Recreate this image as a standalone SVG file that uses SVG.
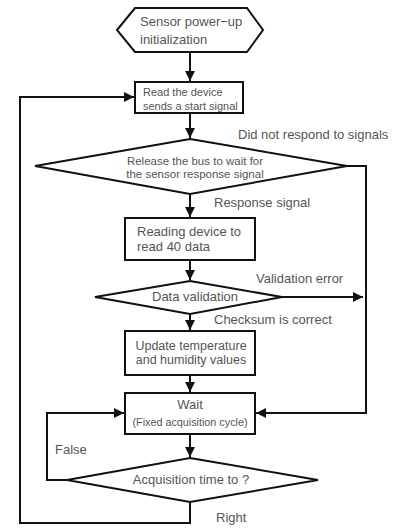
<svg xmlns="http://www.w3.org/2000/svg" width="411" height="530" viewBox="0 0 411 530">
<style>
.s{fill:#fff;stroke:#111;stroke-width:2}
.c{fill:none;stroke:#111;stroke-width:2}
text{font-family:"Liberation Sans",Arial,sans-serif;fill:#555;font-size:13px}
.sm{font-size:11px}
.md{font-size:11.5px}
.u{font-size:12.5px}
.m{text-anchor:middle}
</style>
<defs>
<marker id="a" viewBox="0 0 10 10" refX="10" refY="5" markerWidth="11" markerHeight="10" markerUnits="userSpaceOnUse" orient="auto"><path d="M0,0L10,5L0,10z" fill="#111"/></marker>
</defs>
<rect width="411" height="530" fill="#fff"/>
<g id="connectors">
<path class="c" d="M190,52V81" marker-end="url(#a)"/>
<path class="c" d="M190,113V138" marker-end="url(#a)"/>
<path class="c" d="M190,194V217" marker-end="url(#a)"/>
<path class="c" d="M190,260V280" marker-end="url(#a)"/>
<path class="c" d="M190,314V330" marker-end="url(#a)"/>
<path class="c" d="M190,375V392" marker-end="url(#a)"/>
<path class="c" d="M190,434V457" marker-end="url(#a)"/>
<path class="c" d="M347,166H366V413H256" marker-end="url(#a)"/>
<path class="c" d="M282,297H363" marker-end="url(#a)"/>
<path class="c" d="M67,480H47V413H124" marker-end="url(#a)"/>
<path class="c" d="M190,502V523H20V97H134" marker-end="url(#a)"/>
</g>
<g id="start">
<polygon class="s" points="117,30 135,8 247,8 263,30 247,52 135,52"/>
<text x="140" y="26">Sensor power−up</text>
<text x="140" y="44">initialization</text>
</g>
<g id="send">
<rect class="s" x="135" y="82" width="108" height="31"/>
<text class="sm" x="143" y="96">Read the device</text>
<text class="sm" x="143" y="110">sends a start signal</text>
</g>
<g id="wait-response">
<polygon class="s" points="190,139 347,166 190,194 35,166"/>
<text class="md m" x="195" y="165">Release the bus to wait for</text>
<text class="md m" x="195" y="178">the sensor response signal</text>
</g>
<g id="read">
<rect class="s" x="125" y="218" width="130" height="42"/>
<text x="137" y="236">Reading device to</text>
<text x="137" y="251">read 40 data</text>
</g>
<g id="validate">
<polygon class="s" points="190,281 282,297 190,314 95,297"/>
<text class="m" x="195" y="301">Data validation</text>
</g>
<g id="update">
<rect class="s" x="125" y="331" width="130" height="44"/>
<text class="u m" x="191" y="350">Update temperature</text>
<text class="u m" x="191" y="364">and humidity values</text>
</g>
<g id="wait">
<rect class="s" x="125" y="393" width="130" height="41"/>
<text class="m" x="190" y="409">Wait</text>
<text class="sm m" x="190" y="426" textLength="115" lengthAdjust="spacingAndGlyphs">(Fixed acquisition cycle)</text>
</g>
<g id="time">
<polygon class="s" points="190,458 318,480 190,502 67,480"/>
<text class="m" x="191" y="484">Acquisition time to ?</text>
</g>
<g id="labels">
<text x="238" y="139">Did not respond to signals</text>
<text x="214" y="207">Response signal</text>
<text x="256" y="283">Validation error</text>
<text x="214" y="324">Checksum is correct</text>
<text x="55" y="454">False</text>
<text x="216" y="522">Right</text>
</g>
</svg>
